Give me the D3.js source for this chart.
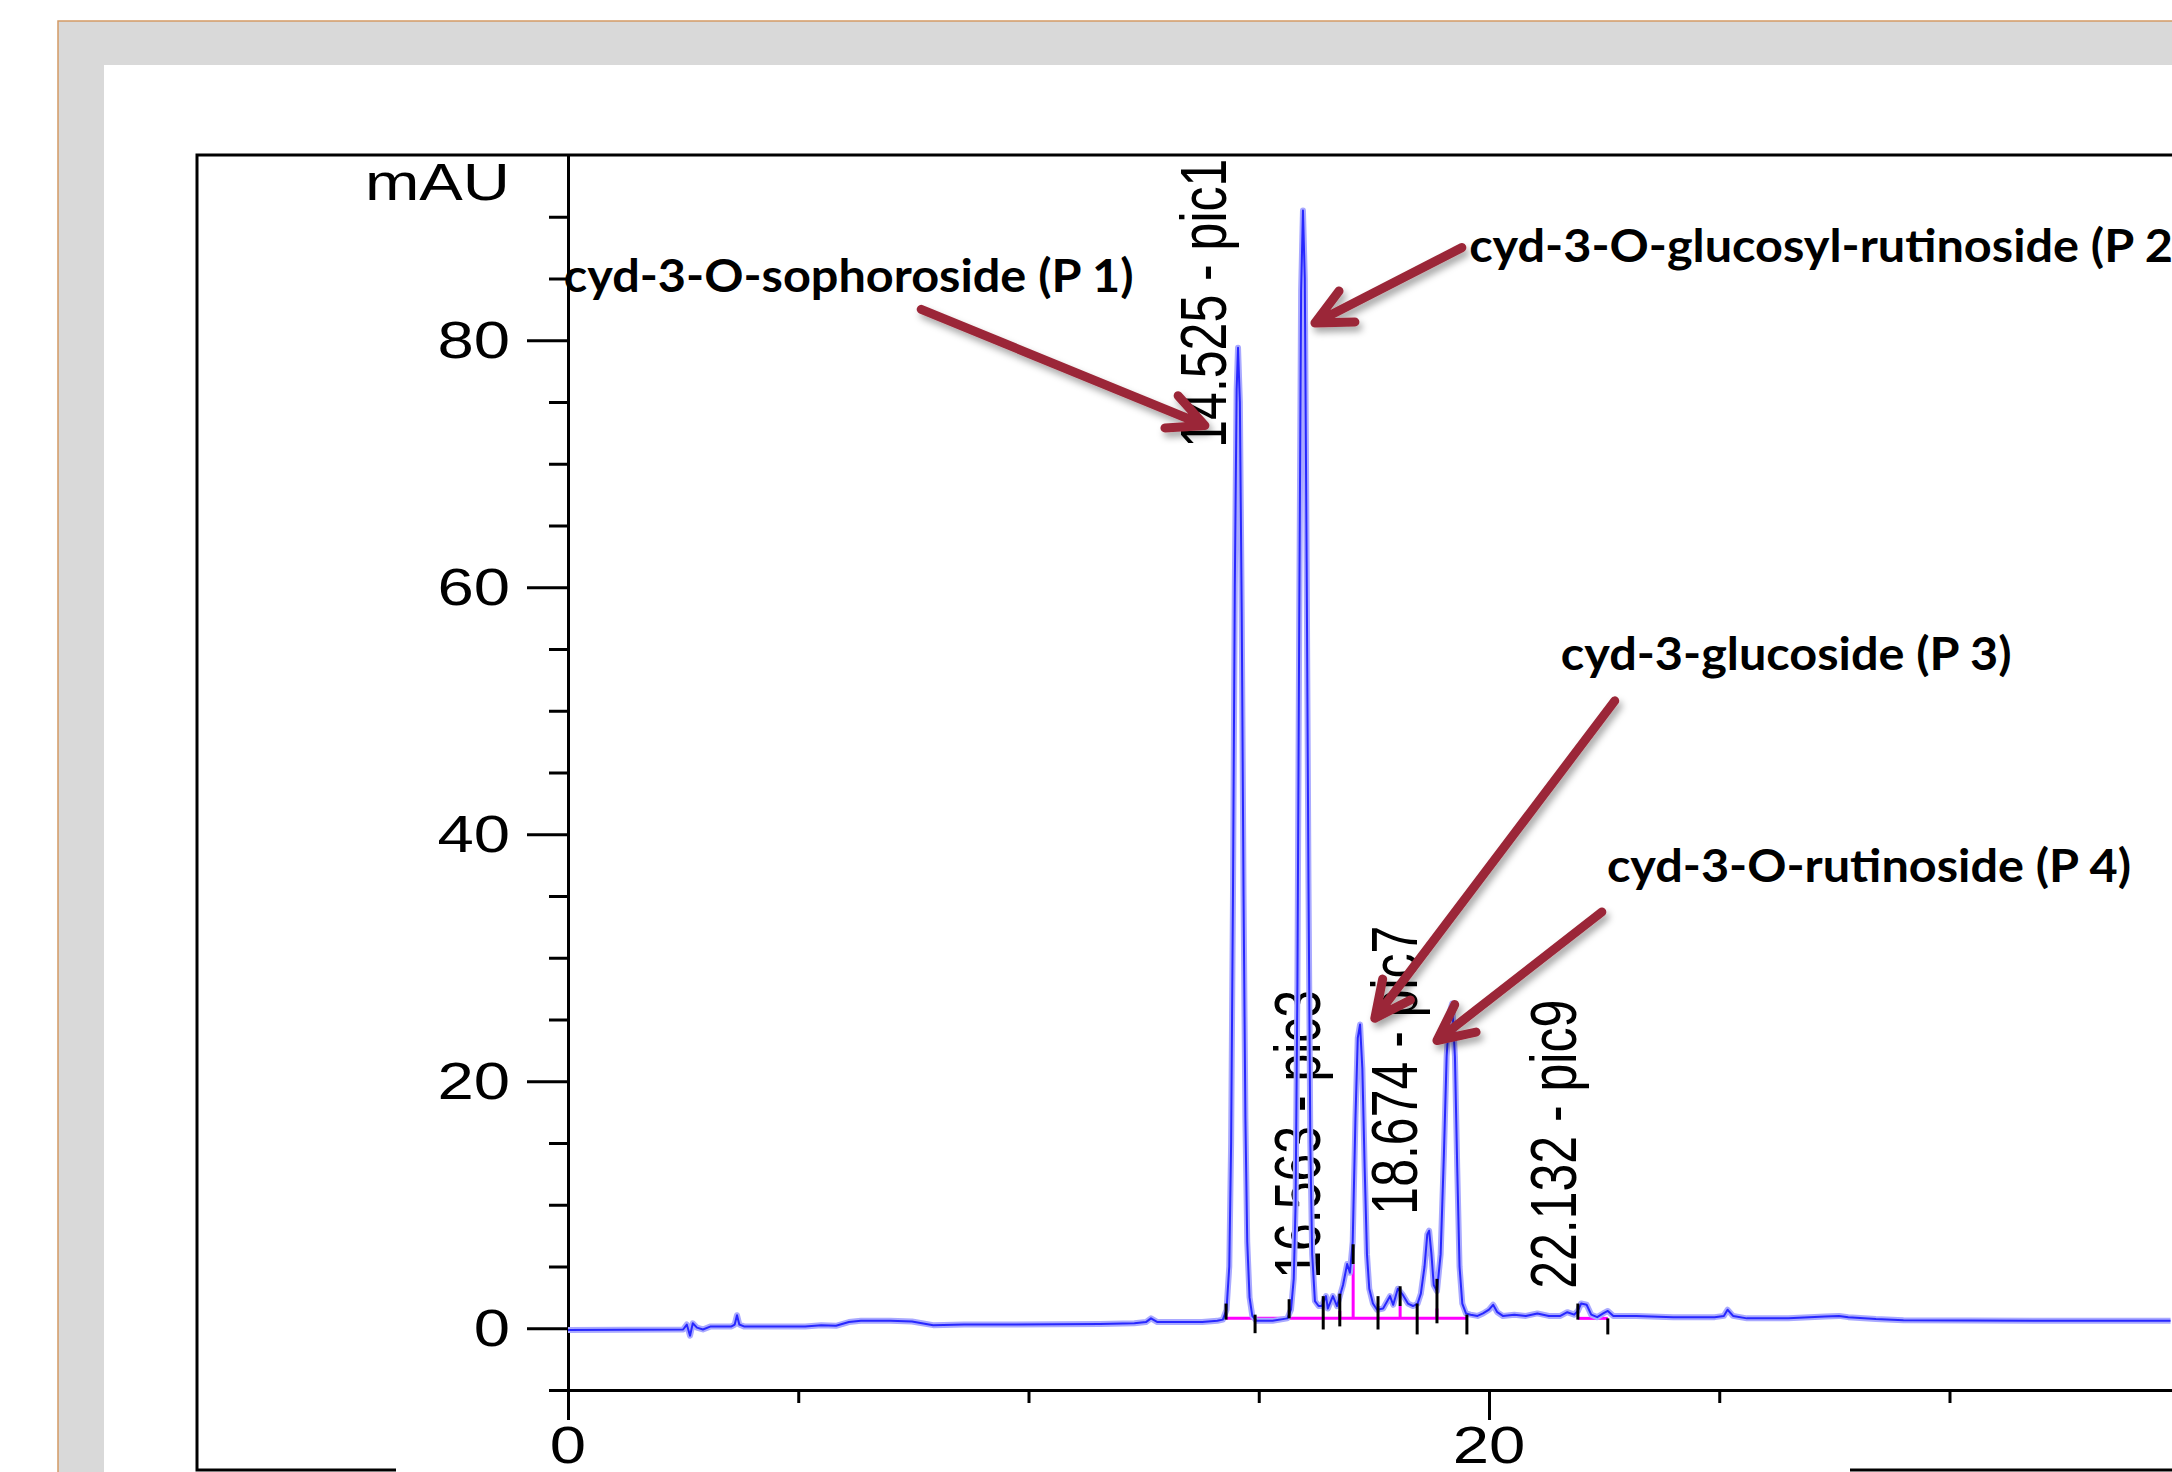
<!DOCTYPE html>
<html>
<head>
<meta charset="utf-8">
<script src="https://cdn.jsdelivr.net/npm/d3@7"></script>
<style>
  body { margin: 0; background: #fff; }
  svg { display: block; }
</style>
</head>
<body>
<svg width="2172" height="1472"></svg>
<script>
// chromatogram: retention time (min) / absorbance (mAU)
var time = [0, 2.50, 2.58, 2.65, 2.71, 2.80, 2.93, 3.10, 3.55, 3.62, 3.67, 3.72, 3.82, 5.15, 5.50, 5.82, 6.10, 6.36, 7.00, 7.47,
  7.93, 8.60, 9.70, 11.55, 12.30, 12.55, 12.66, 12.80, 13.77, 14.10, 14.22,
  14.30, 14.36, 14.40, 14.44, 14.48, 14.52, 14.55, 14.59, 14.63, 14.67, 14.71, 14.75, 14.80, 14.86, 14.95, 15.30, 15.62,
  15.70, 15.76, 15.80, 15.84, 15.88, 15.92, 15.96, 16.00, 16.04, 16.08, 16.12, 16.16, 16.22, 16.30,
  16.37, 16.46, 16.50, 16.61, 16.70, 16.83, 16.92, 16.98,
  17.04, 17.10, 17.15, 17.20, 17.25, 17.30, 17.35, 17.40, 17.48, 17.57,
  17.70, 17.85, 17.92, 18.02, 18.13, 18.24, 18.35, 18.45, 18.52, 18.60, 18.66, 18.70, 18.75, 18.80, 18.87,
  18.95, 19.02, 19.08, 19.14, 19.20, 19.26, 19.31, 19.36, 19.42, 19.50, 19.60,
  19.75, 19.87, 20.00, 20.09, 20.18, 20.30, 20.55, 20.80, 21.05, 21.30, 21.55, 21.70, 21.85, 21.93, 22.00, 22.12, 22.22,
  22.35, 22.48, 22.58, 22.70, 23.20, 24.00, 24.90, 25.10, 25.18, 25.30, 25.60, 26.50, 27.30, 27.60, 27.80, 28.40, 29.00, 32.00, 34.80];
var signal = [-0.15, -0.1, 0.3, -0.6, 0.4, 0.05, -0.1, 0.15, 0.15, 0.3, 1.05, 0.3, 0.15, 0.15, 0.25, 0.2, 0.5, 0.6, 0.6, 0.55,
  0.25, 0.3, 0.3, 0.35, 0.4, 0.5, 0.8, 0.5, 0.5, 0.6, 0.7,
  1.5, 5, 15, 35, 60, 76, 79.4, 75, 58, 35, 17, 7, 2.5, 1.0, 0.6, 0.6, 0.8,
  1.5, 4, 10, 28, 58, 84, 90.5, 85, 62, 36, 15, 6, 2.2, 1.8,
  1.8, 2.6, 1.6, 2.6, 1.8, 3.5, 5.2, 4.5,
  7, 17, 23.5, 24.6, 21, 13, 6, 3.2, 2.0, 1.5,
  1.6, 2.6, 1.9, 3.2, 2.7, 2.0, 1.8, 2.0, 2.8, 5, 7.6, 7.9, 6, 3.5, 3.0,
  6, 14, 22, 25.5, 26.3, 22, 13, 5, 2.0, 1.2, 1.1,
  1.0, 1.2, 1.5, 1.9, 1.3, 1.0, 1.1, 1.0, 1.2, 1.0, 1.0, 1.3, 1.1, 1.4, 2.0, 1.9, 1.1,
  0.9, 1.2, 1.4, 1.0, 1.0, 0.9, 0.9, 1.0, 1.5, 1.0, 0.8, 0.8, 0.95, 1.0, 0.9, 0.75, 0.65, 0.6, 0.6];

// axis ticks
var yMajor = [0, 20, 40, 60, 80];
var yMinor = [-5, 5, 10, 15, 25, 30, 35, 45, 50, 55, 65, 70, 75, 85, 90];
var xMajor = [0, 20];
var xMinor = [5, 10, 15, 25, 30];

// peak labels from the integrator
var peakNames = ["14.525 - pic1", "16.563 - pic3", "18.674 - pic7", "22.132 - pic9"];
var peakTimes = [14.525, 16.563, 18.674, 22.132];
var peakLabelFrom = [71.3, 4.0, 9.2, 3.2];

// integration marks: black ticks, magenta baselines and drop lines
var markTime = [14.29, 14.92, 15.66, 16.40, 16.76, 17.05, 17.59, 18.07, 18.44, 18.87, 19.52, 21.93, 22.58];
var markLow = [0.7, -0.4, 0.8, -0.1, 0.15, 5.2, -0.1, 1.8, -0.5, 0.4, -0.5, 0.7, -0.5];
var markHigh = [2.0, 1.1, 2.35, 2.6, 2.8, 6.8, 2.6, 3.4, 2.0, 4.0, 1.1, 2.0, 0.8];
var baseStart = [14.29, 21.93];
var baseEnd = [19.52, 22.58];
var baseLevel = [0.8, 0.8];
var dropTime = [16.76, 17.05, 18.07, 18.87];
var dropTop = [1.4, 5.2, 1.8, 1.6];

// compound annotations (text start and arrows, in chart units)
var compounds = ["cyd-3-O-sophoroside (P 1)", "cyd-3-O-glucosyl-rutinoside (P 2)", "cyd-3-glucoside (P 3)", "cyd-3-O-rutinoside (P 4)"];
var textT = [-0.09, 19.57, 21.56, 22.56];
var textV = [83.9, 86.3, 53.3, 36.1];
var tailT = [7.67, 19.41, 22.73, 22.45];
var tailV = [82.5, 87.5, 50.8, 33.7];
var headT = [13.83, 16.22, 17.52, 18.87];
var headV = [73.1, 81.4, 25.1, 23.3];

var svg = d3.select("svg"),
    W = +svg.attr("width"),
    H = +svg.attr("height");

var x = d3.scaleLinear().domain([0, 35]).range([568, 568 + 35 * 46.05]);
var y = d3.scaleLinear().domain([-5, 95]).range([1390, 155]);

var defs = svg.append("defs");
defs.append("filter").attr("id", "shadow")
    .attr("x", "-20%").attr("y", "-20%").attr("width", "140%").attr("height", "140%")
  .append("feDropShadow")
    .attr("dx", 3).attr("dy", 5).attr("stdDeviation", 3.5)
    .attr("flood-color", "#000").attr("flood-opacity", 0.35);

// slide frame
svg.append("rect").attr("x", 58).attr("y", 21).attr("width", W).attr("height", H)
    .attr("fill", "#d9d9d9").attr("stroke", "#d39a66").attr("stroke-width", 1.5);
svg.append("rect").attr("x", 104).attr("y", 65).attr("width", W).attr("height", H).attr("fill", "#fff");

// chart box
svg.append("rect").attr("x", 197).attr("y", 155).attr("width", W).attr("height", 1470 - 155)
    .attr("fill", "none").attr("stroke", "#000").attr("stroke-width", 3);
svg.append("rect").attr("x", 396).attr("y", 1462).attr("width", 1454).attr("height", 12).attr("fill", "#fff");

var g = svg.append("g");

function styleAxis(sel) {
  sel.selectAll("path, line").attr("stroke", "#000").attr("stroke-width", 3);
}

g.append("g").attr("transform", "translate(568,0)")
    .call(d3.axisLeft(y).tickValues(yMinor).tickSize(19).tickSizeOuter(0).tickFormat(""))
    .call(styleAxis);
g.append("g").attr("transform", "translate(568,0)")
    .call(d3.axisLeft(y).tickValues(yMajor).tickSize(41).tickSizeOuter(0).tickFormat(""))
    .call(styleAxis);
g.append("g").attr("transform", "translate(0,1390)")
    .call(d3.axisBottom(x).tickValues(xMinor).tickSize(13).tickSizeOuter(0).tickFormat(""))
    .call(styleAxis);
g.append("g").attr("transform", "translate(0,1390)")
    .call(d3.axisBottom(x).tickValues(xMajor).tickSize(30).tickSizeOuter(0).tickFormat(""))
    .call(styleAxis);

var axisFont = "'Liberation Sans', Arial, sans-serif";

g.selectAll(".ylab").data(yMajor).enter().append("text")
    .attr("transform", function(d) { return "translate(510," + (y(d) + 18) + ") scale(1.28,1)"; })
    .attr("text-anchor", "end")
    .attr("font-family", axisFont).attr("font-size", 51)
    .text(function(d) { return d; });

g.append("text")
    .attr("transform", "translate(510," + (y(95) + 45) + ") scale(1.28,1)")
    .attr("text-anchor", "end")
    .attr("font-family", axisFont).attr("font-size", 51)
    .text("mAU");

g.selectAll(".xlab").data(xMajor).enter().append("text")
    .attr("transform", function(d) { return "translate(" + x(d) + ",1463) scale(1.28,1)"; })
    .attr("text-anchor", "middle")
    .attr("font-family", axisFont).attr("font-size", 51)
    .text(function(d) { return d; });

// rotated peak labels
g.selectAll(".plab").data(peakNames).enter().append("text")
    .attr("transform", function(d, i) {
      return "translate(" + (x(peakTimes[i]) - 11) + "," + y(peakLabelFrom[i]) + ") scale(1.28,1) rotate(-90)";
    })
    .attr("font-family", axisFont).attr("font-size", 50)
    .text(function(d) { return d; });

// integration baselines and drops
g.selectAll(".base").data(baseStart).enter().append("line")
    .attr("x1", function(d) { return x(d); })
    .attr("x2", function(d, i) { return x(baseEnd[i]); })
    .attr("y1", function(d, i) { return y(baseLevel[i]); })
    .attr("y2", function(d, i) { return y(baseLevel[i]); })
    .attr("stroke", "#ff00ff").attr("stroke-width", 3);
g.selectAll(".drop").data(dropTime).enter().append("line")
    .attr("x1", function(d) { return x(d); })
    .attr("x2", function(d) { return x(d); })
    .attr("y1", y(0.8))
    .attr("y2", function(d, i) { return y(dropTop[i]); })
    .attr("stroke", "#ff00ff").attr("stroke-width", 3);

// trace
var pts = time.map(function(t, i) { return [t, signal[i]]; });
var line = d3.line()
    .x(function(d) { return x(d[0]); })
    .y(function(d) { return y(d[1]); });

g.append("path").datum(pts)
    .attr("fill", "none").attr("stroke", "#a9a9ff").attr("stroke-width", 6)
    .attr("stroke-linejoin", "round").attr("d", line);
g.append("path").datum(pts)
    .attr("fill", "none").attr("stroke", "#1010ff").attr("stroke-width", 2)
    .attr("stroke-opacity", 0.85).attr("stroke-linejoin", "round").attr("d", line);

g.selectAll(".mark").data(markTime).enter().append("line")
    .attr("x1", function(d) { return x(d); })
    .attr("x2", function(d) { return x(d); })
    .attr("y1", function(d, i) { return y(markLow[i]); })
    .attr("y2", function(d, i) { return y(markHigh[i]); })
    .attr("stroke", "#000").attr("stroke-width", 3);

// annotations
g.selectAll(".comp").data(compounds).enter().append("text")
    .attr("transform", function(d, i) { return "translate(" + x(textT[i]) + "," + y(textV[i]) + ") scale(1.08,1)"; })
    .attr("font-family", "Lato, 'Open Sans', sans-serif").attr("font-weight", 700).attr("font-size", 45)
    .attr("fill", "#000")
    .text(function(d) { return d; });

var arrows = g.append("g").attr("filter", "url(#shadow)");
arrows.selectAll(".arrow").data(compounds).enter().append("path")
    .attr("d", function(d, i) {
      var hx = x(headT[i]), hy = y(headV[i]), tx = x(tailT[i]), ty = y(tailV[i]);
      var a = Math.atan2(ty - hy, tx - hx), w = 0.45, L = 40;
      return "M" + tx + "," + ty + "L" + hx + "," + hy +
        "M" + (hx + L * Math.cos(a - w)) + "," + (hy + L * Math.sin(a - w)) +
        "L" + hx + "," + hy +
        "L" + (hx + L * Math.cos(a + w)) + "," + (hy + L * Math.sin(a + w));
    })
    .attr("fill", "none").attr("stroke", "#9b2737").attr("stroke-width", 9)
    .attr("stroke-linecap", "round").attr("stroke-linejoin", "round");
</script>
</body>
</html>
